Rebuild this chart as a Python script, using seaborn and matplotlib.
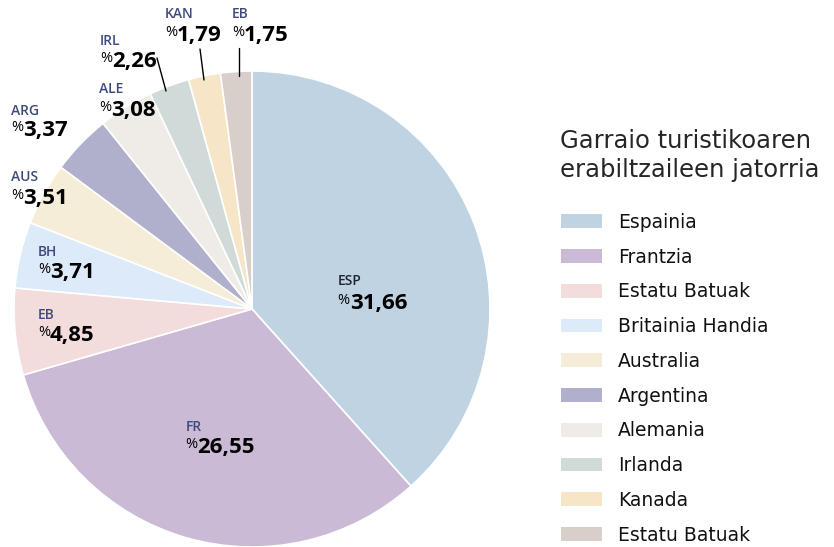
import matplotlib
matplotlib.use("Agg")
import matplotlib.pyplot as plt
import seaborn as sns

# Origin of tourist-transport users (shares in %)
countries = ["Espainia", "Frantzia", "Estatu Batuak", "Britainia Handia", "Australia",
             "Argentina", "Alemania", "Irlanda", "Kanada", "Estatu Batuak"]
codes = ["ESP", "FR", "EB", "BH", "AUS", "ARG", "ALE", "IRL", "KAN", "EB"]
shares = [31.66, 26.55, 4.85, 3.71, 3.51, 3.37, 3.08, 2.26, 1.79, 1.75]
colors = ["#c0d3e2", "#cbbad5", "#f3dcdc", "#dceaf9", "#f5edd7",
          "#b0b0cd", "#efece7", "#d0dad9", "#f6e6c7", "#d8cfca"]

# label anchors (pie units, radius = 1): code line y, value line y
label_x = [0.36, -0.28, -0.90, -0.90, -1.013, -1.013, -0.643, -0.639, -0.366, -0.084]
code_y = [0.118, -0.496, -0.025, 0.24, 0.555, 0.832, 0.924, 1.126, 1.24, 1.24]
value_y = [0.025, -0.58, -0.113, 0.155, 0.466, 0.748, 0.832, 1.042, 1.151, 1.151]

sns.set_theme(style="white")
plt.rcParams["font.family"] = ["Open Sans", "DejaVu Sans"]
palette = sns.color_palette(colors)

fig = plt.figure(figsize=(8.34, 5.47), dpi=100)
ax = fig.add_axes([14 / 834, 0, 476 / 834, 476 / 547])
wedges, _ = ax.pie(shares, colors=palette, startangle=90, counterclock=False,
                   radius=1, wedgeprops=dict(edgecolor="white", linewidth=1.2))
ax.set_xlim(-1, 1)
ax.set_ylim(-1, 1)
ax.set_aspect("equal")
ax.axis("off")

navy = "#3e4a7c"
for i, (c, v) in enumerate(zip(codes, shares)):
    col = "#1f2430" if i == 0 else navy
    ax.text(label_x[i], code_y[i], c, color=col, fontsize=10, fontweight="semibold",
            ha="left", va="center")
    ax.annotate("%", (label_x[i], value_y[i]), xytext=(0, 3), textcoords="offset pixels",
                fontsize=10.5, color="black", ha="left", va="center", annotation_clip=False)
    ax.annotate(f"{v:.2f}".replace(".", ","), (label_x[i], value_y[i]), xytext=(12, 0),
                textcoords="offset pixels", fontsize=16, fontweight="bold",
                color="black", ha="left", va="center", annotation_clip=False)

# leader lines for the thin top slices
leaders = [(7, (157, 58), (166, 91)), (8, (200, 49), (204, 80)), (9, (239, 48), (239, 76))]
for _, p0, p1 in leaders:
    x0, y0 = (p0[0] - 252) / 238, (309 - p0[1]) / 238
    x1, y1 = (p1[0] - 252) / 238, (309 - p1[1]) / 238
    ax.plot([x0, x1], [y0, y1], color="black", linewidth=1.0, clip_on=False)

leg = fig.legend(wedges, countries, loc="upper left", bbox_to_anchor=(553 / 834, 1 - 121 / 547),
                 frameon=False, prop=dict(family="DejaVu Sans", size=13.5),
                 title="Garraio turistikoaren\nerabiltzaileen jatorria",
                 title_fontproperties=dict(family="DejaVu Sans", size=17.5),
                 alignment="left", handlelength=2.2, handleheight=0.75,
                 labelspacing=0.84, handletextpad=0.85, borderaxespad=0)
for h in leg.legend_handles:
    h.set_edgecolor("none")
leg.get_title().set_linespacing(1.3)
for t in leg.get_texts():
    t.set_color("#111111")
leg._legend_box.sep = 22

fig.savefig("out.png", dpi=100)
